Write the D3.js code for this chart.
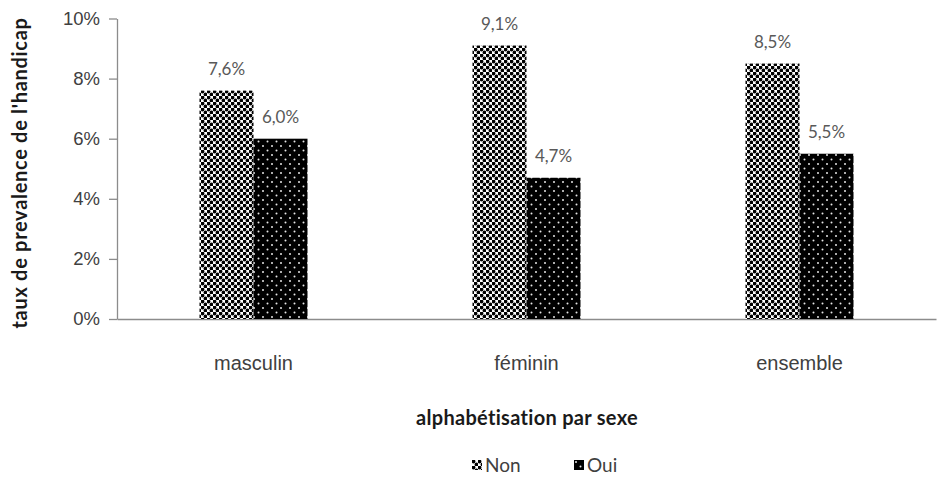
<!DOCTYPE html>
<html>
<head>
<meta charset="utf-8">
<script src="https://cdn.jsdelivr.net/npm/d3@7/dist/d3.min.js"></script>
<style>
  body { margin: 0; background: #fff; }
  svg { display: block; font-family: Lato, "Open Sans", sans-serif; }
</style>
</head>
<body>
<svg id="chart" width="942" height="500"></svg>
<script>
// Prevalence of disability by literacy status and sex
const categories = ["masculin", "féminin", "ensemble"];
const seriesNames = ["Non", "Oui"];
const nonValues = [7.6, 9.1, 8.5];
const ouiValues = [6.0, 4.7, 5.5];
const yTicks = [0, 2, 4, 6, 8, 10];

const svg = d3.select("#chart");
const defs = svg.append("defs");

// Checker-dot fill for "Non"
const pNon = defs.append("pattern").attr("id", "pat-non")
  .attr("patternUnits", "userSpaceOnUse").attr("width", 6).attr("height", 6);
pNon.append("rect").attr("width", 6).attr("height", 6).attr("fill", "#fff");
pNon.append("circle").attr("cx", 1.5).attr("cy", 1.5).attr("r", 1.9).attr("fill", "#000");
pNon.append("circle").attr("cx", 4.5).attr("cy", 4.5).attr("r", 1.9).attr("fill", "#000");

// Black fill with small white dots for "Oui"
const pOui = defs.append("pattern").attr("id", "pat-oui")
  .attr("patternUnits", "userSpaceOnUse").attr("width", 9).attr("height", 9);
pOui.append("rect").attr("width", 9).attr("height", 9).attr("fill", "#000");
pOui.append("circle").attr("cx", 2).attr("cy", 2).attr("r", 1).attr("fill", "#e6e6e6");
pOui.append("circle").attr("cx", 6.5).attr("cy", 6.5).attr("r", 1).attr("fill", "#e6e6e6");

const fills = { Non: "url(#pat-non)", Oui: "url(#pat-oui)" };

const plotLeft = 117, plotRight = 936, plotTop = 18.5, plotBottom = 319;

const x0 = d3.scaleBand().domain(categories).range([plotLeft, plotRight]);
const x1 = d3.scaleBand().domain(seriesNames)
  .range([x0.bandwidth() / 2 - 54, x0.bandwidth() / 2 + 54]);
const y = d3.scaleLinear().domain([0, 10]).range([plotBottom, plotTop]);

// Y axis
const yAxis = svg.append("g").attr("transform", `translate(${plotLeft},0)`)
  .call(d3.axisLeft(y).tickValues(yTicks).tickSize(8).tickSizeOuter(0)
    .tickFormat(d => d + "%"));
yAxis.select(".domain").attr("stroke", "#8c8c8c").attr("stroke-width", 1.3);
yAxis.selectAll(".tick line").attr("stroke", "#8c8c8c").attr("stroke-width", 1.3);
yAxis.selectAll(".tick text").attr("fill", "#404040").attr("font-size", 18.5)
  .attr("x", -17);

// X axis baseline and category labels
const xAxis = svg.append("g").attr("transform", `translate(0,${plotBottom})`)
  .call(d3.axisBottom(x0).tickSize(0).tickSizeOuter(0));
xAxis.select(".domain").attr("stroke", "#8c8c8c").attr("stroke-width", 1.3);
xAxis.selectAll(".tick text").attr("fill", "#404040").attr("font-size", 20)
  .attr("dy", 0).attr("y", 51);

// Bars
const rows = categories.map((c, i) => ({ cat: c, vals: [
  { key: "Non", v: nonValues[i] }, { key: "Oui", v: ouiValues[i] }] }));

const groups = svg.append("g").selectAll("g").data(rows).join("g")
  .attr("transform", d => `translate(${x0(d.cat)},0)`);

groups.selectAll("rect").data(d => d.vals).join("rect")
  .attr("x", d => x1(d.key))
  .attr("width", x1.bandwidth())
  .attr("y", d => y(d.v))
  .attr("height", d => y(0) - y(d.v))
  .attr("fill", d => fills[d.key]);

groups.selectAll("text.val").data(d => d.vals).join("text")
  .attr("class", "val")
  .attr("x", d => x1(d.key) + x1.bandwidth() / 2)
  .attr("y", d => y(d.v) - 16)
  .attr("text-anchor", "middle")
  .attr("font-size", 17)
  .attr("fill", "#595959")
  .text(d => d.v.toFixed(1).replace(".", ",") + "%");

// Axis titles
svg.append("text")
  .attr("transform", `translate(27,173) rotate(-90)`)
  .attr("text-anchor", "middle")
  .attr("font-size", 20).attr("font-weight", "bold").attr("fill", "#1a1a1a")
  .attr("letter-spacing", 0.7)
  .text("taux de prevalence de l'handicap");

svg.append("text")
  .attr("x", 527).attr("y", 425)
  .attr("text-anchor", "middle")
  .attr("font-size", 20).attr("font-weight", "bold").attr("fill", "#1a1a1a")
  .attr("letter-spacing", 0.3)
  .text("alphabétisation par sexe");

// Legend
const legendX = { Non: 472, Oui: 574 };
const legend = svg.append("g").selectAll("g").data(seriesNames).join("g")
  .attr("transform", d => `translate(${legendX[d]},460)`);
legend.append("rect").attr("width", 10).attr("height", 10)
  .attr("fill", d => fills[d]);
legend.append("text").attr("x", 13).attr("y", 12)
  .attr("font-size", 19).attr("fill", "#404040")
  .text(d => d);
</script>
</body>
</html>
